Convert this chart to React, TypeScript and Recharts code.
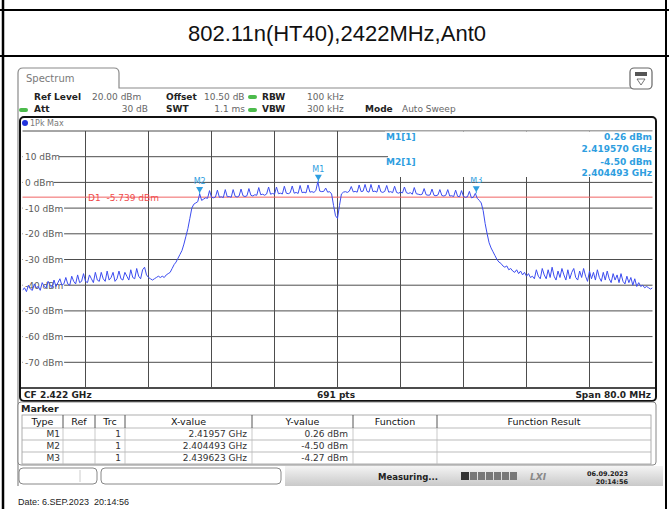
import React from 'react';
import { LineChart, Line, XAxis, YAxis, ReferenceLine, ReferenceDot } from 'recharts';

// Sweep: CF 2.422 GHz, span 80 MHz -> 2382 .. 2462 MHz, read every 0.25 MHz
const startMHz = 2382;
const stepMHz = 0.25;
const traceDbm = [
  -42, -41, -42.5, -40, -41.5, -42, -39.5, -41, -40.5, -42,
  -39, -40.5, -41, -38.5, -40, -41, -38, -40.5, -39, -37.5,
  -40, -39.5, -37, -39.5, -40, -36.5, -38.5, -39.5, -36, -39,
  -38.5, -35.5, -38.5, -39, -36, -37.5, -39, -35, -38, -38.5,
  -35, -37.5, -38.5, -34.5, -38, -37, -35, -38.5, -37.5, -34.5,
  -37.5, -38, -35, -36.5, -38, -34, -37, -37.5, -33.5, -36.5,
  -37.5, -34, -33, -36, -37, -37.5, -38, -37.5, -37, -36.5,
  -37, -36.5, -37, -36, -35.5, -35, -33.5, -32, -31, -29.5,
  -28, -26.5, -24, -21, -18, -14, -10, -8.5, -8, -7.5,
  -4.5, -7, -6.5, -6, -6.2, -3.2, -5.8, -6, -5.7, -3,
  -5.8, -5.6, -5.9, -2.8, -5.6, -5.5, -5.8, -2.8, -5.4, -5.7,
  -5.3, -2.6, -5.2, -5.5, -5.2, -2.4, -5, -5.3, -4.8, -5,
  -2, -4.8, -4.6, -5, -4.5, -1.8, -4.6, -4.3, -4.6, -1.8,
  -4.4, -4.2, -4.5, -1.5, -4.2, -4.4, -4, -1.4, -4.2, -3.9,
  -4.3, -1.2, -4, -3.8, -4.1, -1, -3.8, -3.6, -3.9, -3.2,
  0.26, -3.4, -3.6, -3.5, -2.2, -3.8, -3.6, -4.5, -9, -13,
  -14, -9, -4.5, -3.8, -3.6, -3.9, -3.4, -1.6, -3.7, -3.5,
  -3.8, -1, -3.6, -3.4, -0.8, -3.5, -3.8, -0.8, -3.6, -3.4,
  -3.8, -1, -3.6, -3.9, -3.5, -1.2, -3.8, -3.6, -4, -1.5,
  -3.9, -4.2, -3.8, -4.1, -1.8, -4, -4.3, -4, -4.6, -2,
  -4.4, -4.6, -4.8, -4.6, -2.4, -4.8, -5, -4.9, -2.6, -5,
  -5.2, -4.9, -2.8, -5.1, -5.3, -5, -2.8, -5.3, -5.2, -5.5,
  -3, -5.4, -5.6, -3.2, -5.5, -5.8, -5.6, -3.5, -6, -5.8,
  -4.27, -6.2, -7, -8, -11, -16, -20, -23.5, -25.5, -27,
  -28.5, -30, -31, -31.5, -32.5, -33, -32.5, -34, -33.5, -34.5,
  -35, -34, -35.5, -34.5, -36, -35, -36.5, -35.5, -37, -36.5,
  -37.5, -34, -36.5, -37.5, -33.5, -36, -37.5, -34, -37, -33,
  -36.5, -38, -34.5, -37, -33.5, -36, -38, -34, -37.5, -35,
  -33.5, -37, -38, -34.5, -37, -33.5, -36.5, -38.5, -34.5, -37.5,
  -35, -38, -34, -37, -38.5, -35, -38, -34.5, -37.5, -39,
  -35.5, -38, -36, -39, -35.5, -38.5, -39.5, -36.5, -39, -37,
  -40, -37.5, -40.5, -39, -40.5, -40, -41, -40.5, -41, -41.5,
  -41,
];

const markerNames = ['M1', 'M2', 'M3'];
const markerMHz = [2419.57, 2404.493, 2439.623];
const markerDbm = [0.26, -4.5, -4.27];
const markerXText = ['2.41957 GHz', '2.404493 GHz', '2.439623 GHz'];
const markerYText = ['0.26 dBm', '-4.50 dBm', '-4.27 dBm'];

const yGridTicks = [20, 10, 0, -10, -20, -30, -40, -50, -60, -70];
const yLabelTicks = [10, 0, -10, -20, -30, -40, -50, -60, -70];
const xGridTicks = [2390, 2398, 2406, 2414, 2422, 2430, 2438, 2446, 2454];
const d1Level = -5.739;

const data = traceDbm.map((v, i) => ({ f: startMHz + i * stepMHz, v }));

const INST = 'DejaVu Sans, Verdana, sans-serif';
const GRID = '#4d4d4d';
const MK = '#2e9ee0';
const TRACE = '#3c4cef';

const YLabel = (props: any) => {
  const vb = props.viewBox || {};
  const text = props.text as string;
  const w = text.length * 5.3 + 4;
  return (
    <g>
      <rect x={23} y={vb.y - 6} width={w} height={12} fill="#fff" />
      <text x={25} y={vb.y + 3.5} fontSize={9} fontFamily={INST} fill="#5a5a5a">{text}</text>
    </g>
  );
};

const D1Label = (props: any) => {
  const vb = props.viewBox || {};
  return (
    <text x={88} y={vb.y + 3.5} fontSize={9} fontFamily={INST} fill="#f04a4a" xmlSpace="preserve" style={{ whiteSpace: 'pre' }}>D1  -5.739 dBm</text>
  );
};

const MarkerShape = (name: string) => (props: any) => {
  const { cx, cy } = props;
  return (
    <g>
      <path d={`M${cx - 3.5},${cy - 7} L${cx + 3.5},${cy - 7} L${cx},${cy - 1} Z`} fill={MK} />
      <line x1={cx} y1={cy - 2} x2={cx} y2={cy} stroke={MK} strokeWidth={1} />
      <text x={cx} y={cy - 10} fontSize={8} fontFamily={INST} fill={MK} textAnchor="middle">{name}</text>
    </g>
  );
};

const T = (p: any) => (
  <text fontFamily={INST} fontSize={9} fill="#222" {...p} />
);

export default function App() {
  const colX = [22, 63, 95, 125, 252, 353, 437, 651];
  const headers = ['Type', 'Ref', 'Trc', 'X-value', 'Y-value', 'Function', 'Function Result'];
  return (
    <div style={{ position: 'absolute', left: 0, top: 0, width: 669, height: 509, background: '#fff', overflow: 'hidden' }}>
      <svg width={669} height={509} style={{ position: 'absolute', left: 0, top: 0 }}>
        <defs>
          <linearGradient id="sb" x1="0" y1="0" x2="0" y2="1">
            <stop offset="0" stopColor="#f4f4f4" />
            <stop offset="1" stopColor="#c9c9c9" />
          </linearGradient>
        </defs>
        {/* outer table */}
        <line x1={0} y1={10} x2={669} y2={10} stroke="#000" strokeWidth={2} />
        <line x1={0} y1={56} x2={669} y2={56} stroke="#000" strokeWidth={2} />
        <line x1={3} y1={0} x2={3} y2={509} stroke="#000" strokeWidth={2.5} />
        <line x1={666} y1={0} x2={666} y2={509} stroke="#000" strokeWidth={2} />
        <text x={337} y={41} textAnchor="middle" fontSize={22} fontFamily="Liberation Sans, Arial, sans-serif" fill="#111">802.11n(HT40),2422MHz,Ant0</text>

        {/* spectrum tab & window */}
        <path d="M18,486 L18,73 Q18,68 23,68 L114,68 Q119,68 119,73 L119,88 L650,88" fill="none" stroke="#8a8a8a" strokeWidth={1.2} />
        <text x={26} y={82} fontSize={10} fontFamily={INST} fill="#7a7a7a">Spectrum</text>
        <rect x={630} y={68} width={22} height={21} rx={4} fill="#fff" stroke="#666" strokeWidth={1.2} />
        <rect x={635} y={72} width={12} height={4} fill="#555" />
        <path d="M637,79 L645,79 L641,85 Z" fill="none" stroke="#555" strokeWidth={0.8} />

        {/* header */}
        <T x={34} y={100} fontWeight="bold">Ref Level</T>
        <T x={92} y={100} fill="#666">20.00 dBm</T>
        <T x={166} y={100} fontWeight="bold">Offset</T>
        <T x={204} y={100} fill="#666">10.50 dB</T>
        <rect x={248} y={95} width={9} height={4} rx={2} fill="#4cbb4c" />
        <T x={262} y={100} fontWeight="bold">RBW</T>
        <T x={307} y={100} fill="#666">100 kHz</T>
        <rect x={19} y={108} width={9} height={4} rx={2} fill="#4cbb4c" />
        <T x={34} y={112} fontWeight="bold">Att</T>
        <T x={148} y={112} fill="#666" textAnchor="end">30 dB</T>
        <T x={166} y={112} fontWeight="bold">SWT</T>
        <T x={245} y={112} fill="#666" textAnchor="end">1.1 ms</T>
        <rect x={248} y={108} width={9} height={4} rx={2} fill="#4cbb4c" />
        <T x={262} y={112} fontWeight="bold">VBW</T>
        <T x={307} y={112} fill="#666">300 kHz</T>
        <T x={365} y={112} fontWeight="bold">Mode</T>
        <T x={402} y={112} fill="#666">Auto Sweep</T>

        {/* plot frame */}
        <rect x={20} y={117} width={636} height={284} rx={4} fill="#fff" stroke="#111" strokeWidth={2} />
        <circle cx={25} cy={123} r={3} fill="#2233dd" />
        <text x={30} y={126} fontSize={8} fontFamily={INST} fill="#777">1Pk Max</text>
        <line x1={20} y1={388} x2={656} y2={388} stroke="#111" strokeWidth={1.5} />
        <T x={24} y={398} fontWeight="bold">CF 2.422 GHz</T>
        <T x={336} y={398} fontWeight="bold" textAnchor="middle">691 pts</T>
        <T x={651} y={398} fontWeight="bold" textAnchor="end">Span 80.0 MHz</T>

        {/* marker table */}
        <rect x={18} y={402} width={638} height={63} rx={3} fill="#fff" stroke="#888" strokeWidth={1} />
        <T x={21} y={412} fontWeight="bold" fontSize={9.5}>Marker</T>
        <rect x={22} y={415} width={629} height={49} fill="none" stroke="#999" strokeWidth={0.8} />
        {[428, 440, 452].map((y) => (
          <line key={y} x1={22} y1={y} x2={651} y2={y} stroke="#aaa" strokeWidth={0.8} />
        ))}
        {colX.slice(1, 7).map((x) => (
          <line key={x} x1={x} y1={415} x2={x} y2={428} stroke="#555" strokeWidth={1} />
        ))}
        {colX.slice(1, 7).map((x) => (
          <line key={'b' + x} x1={x} y1={428} x2={x} y2={464} stroke="#bbb" strokeWidth={0.8} />
        ))}
        {headers.map((h, i) => (
          <text key={h} x={(colX[i] + colX[i + 1]) / 2} y={425} textAnchor="middle" fontSize={9.5} fontFamily={INST} fill="#111">{h}</text>
        ))}
        {markerNames.map((m, i) => (
          <g key={m}>
            <text x={60} y={437 + i * 12} textAnchor="end" fontSize={9} fontFamily={INST} fill="#333">{m}</text>
            <text x={121} y={437 + i * 12} textAnchor="end" fontSize={9} fontFamily={INST} fill="#333">1</text>
            <text x={247} y={437 + i * 12} textAnchor="end" fontSize={9} fontFamily={INST} fill="#333">{markerXText[i]}</text>
            <text x={348} y={437 + i * 12} textAnchor="end" fontSize={9} fontFamily={INST} fill="#333">{markerYText[i]}</text>
          </g>
        ))}

        {/* bottom status bar */}
        <rect x={285} y={466} width={378} height={20} fill="url(#sb)" />
        <rect x={19} y={468} width={78} height={16} rx={4} fill="#fff" stroke="#888" />
        <line x1={80} y1={470} x2={80} y2={482} stroke="#ccc" />
        <rect x={101} y={468} width={180} height={16} rx={4} fill="#fff" stroke="#888" />
        <T x={378} y={480} fontWeight="bold" fontSize={8.5}>Measuring...</T>
        <rect x={461} y={472} width={8} height={8} fill="#333" />
        {[0, 1, 2, 3, 4, 5].map((k) => (
          <rect key={k} x={470 + k * 8} y={472} width={7} height={8} fill="#777" />
        ))}
        <text x={530} y={480} fontSize={9} fontStyle="italic" fontWeight="bold" fontFamily={INST} fill="#888">LXI</text>
        <text x={628} y={476} textAnchor="end" fontSize={6.5} fontWeight="bold" fontFamily={INST} fill="#222">06.09.2023</text>
        <text x={628} y={484} textAnchor="end" fontSize={6.5} fontWeight="bold" fontFamily={INST} fill="#222">20:14:56</text>
        <text x={18} y={505} fontSize={9} fontFamily="Liberation Sans, Arial, sans-serif" fill="#222" xmlSpace="preserve" style={{ whiteSpace: 'pre' }}>Date: 6.SEP.2023  20:14:56</text>
      </svg>

      <div style={{ position: 'absolute', left: 0, top: 0 }}>
        <LineChart width={669} height={509} data={data} margin={{ top: 131, right: 16.5, bottom: 121, left: 22.5 }}>
          <XAxis dataKey="f" type="number" domain={[2382, 2462]} hide allowDataOverflow />
          <YAxis type="number" domain={[-80, 20]} hide allowDataOverflow />
          {xGridTicks.map((t) => (
            <ReferenceLine key={'x' + t} x={t} stroke={GRID} strokeWidth={1} />
          ))}
          {yGridTicks.map((t) => (
            <ReferenceLine key={'y' + t} y={t} stroke={GRID} strokeWidth={1} />
          ))}
          {yLabelTicks.map((t) => (
            <ReferenceLine key={'l' + t} y={t} stroke="none" label={<YLabel text={`${t} dBm`} />} />
          ))}
          <ReferenceLine y={d1Level} stroke="#f06464" strokeWidth={1} label={<D1Label />} />
          <Line type="linear" dataKey="v" stroke={TRACE} strokeWidth={1} dot={false} isAnimationActive={false} />
          {markerNames.map((m, i) => (
            <ReferenceDot key={m} x={markerMHz[i]} y={markerDbm[i]} r={3} shape={MarkerShape(m)} />
          ))}
        </LineChart>
      </div>

      <svg width={669} height={509} style={{ position: 'absolute', left: 0, top: 0, pointerEvents: 'none' }}>
        <rect x={385} y={131.5} width={268} height={45.5} fill="#fff" />
        <line x1={385} y1={156.7} x2={388} y2={156.7} stroke={GRID} />
        <text x={386} y={140} fontSize={9} fontWeight="bold" fontFamily={INST} fill={MK}>M1[1]</text>
        <text x={652} y={140} textAnchor="end" fontSize={9} fontWeight="bold" fontFamily={INST} fill={MK}>0.26 dBm</text>
        <text x={652} y={152} textAnchor="end" fontSize={9} fontWeight="bold" fontFamily={INST} fill={MK}>2.419570 GHz</text>
        <text x={386} y={165} fontSize={9} fontWeight="bold" fontFamily={INST} fill={MK}>M2[1]</text>
        <text x={652} y={165} textAnchor="end" fontSize={9} fontWeight="bold" fontFamily={INST} fill={MK}>-4.50 dBm</text>
        <text x={652} y={176} textAnchor="end" fontSize={9} fontWeight="bold" fontFamily={INST} fill={MK}>2.404493 GHz</text>
      </svg>
    </div>
  );
}
